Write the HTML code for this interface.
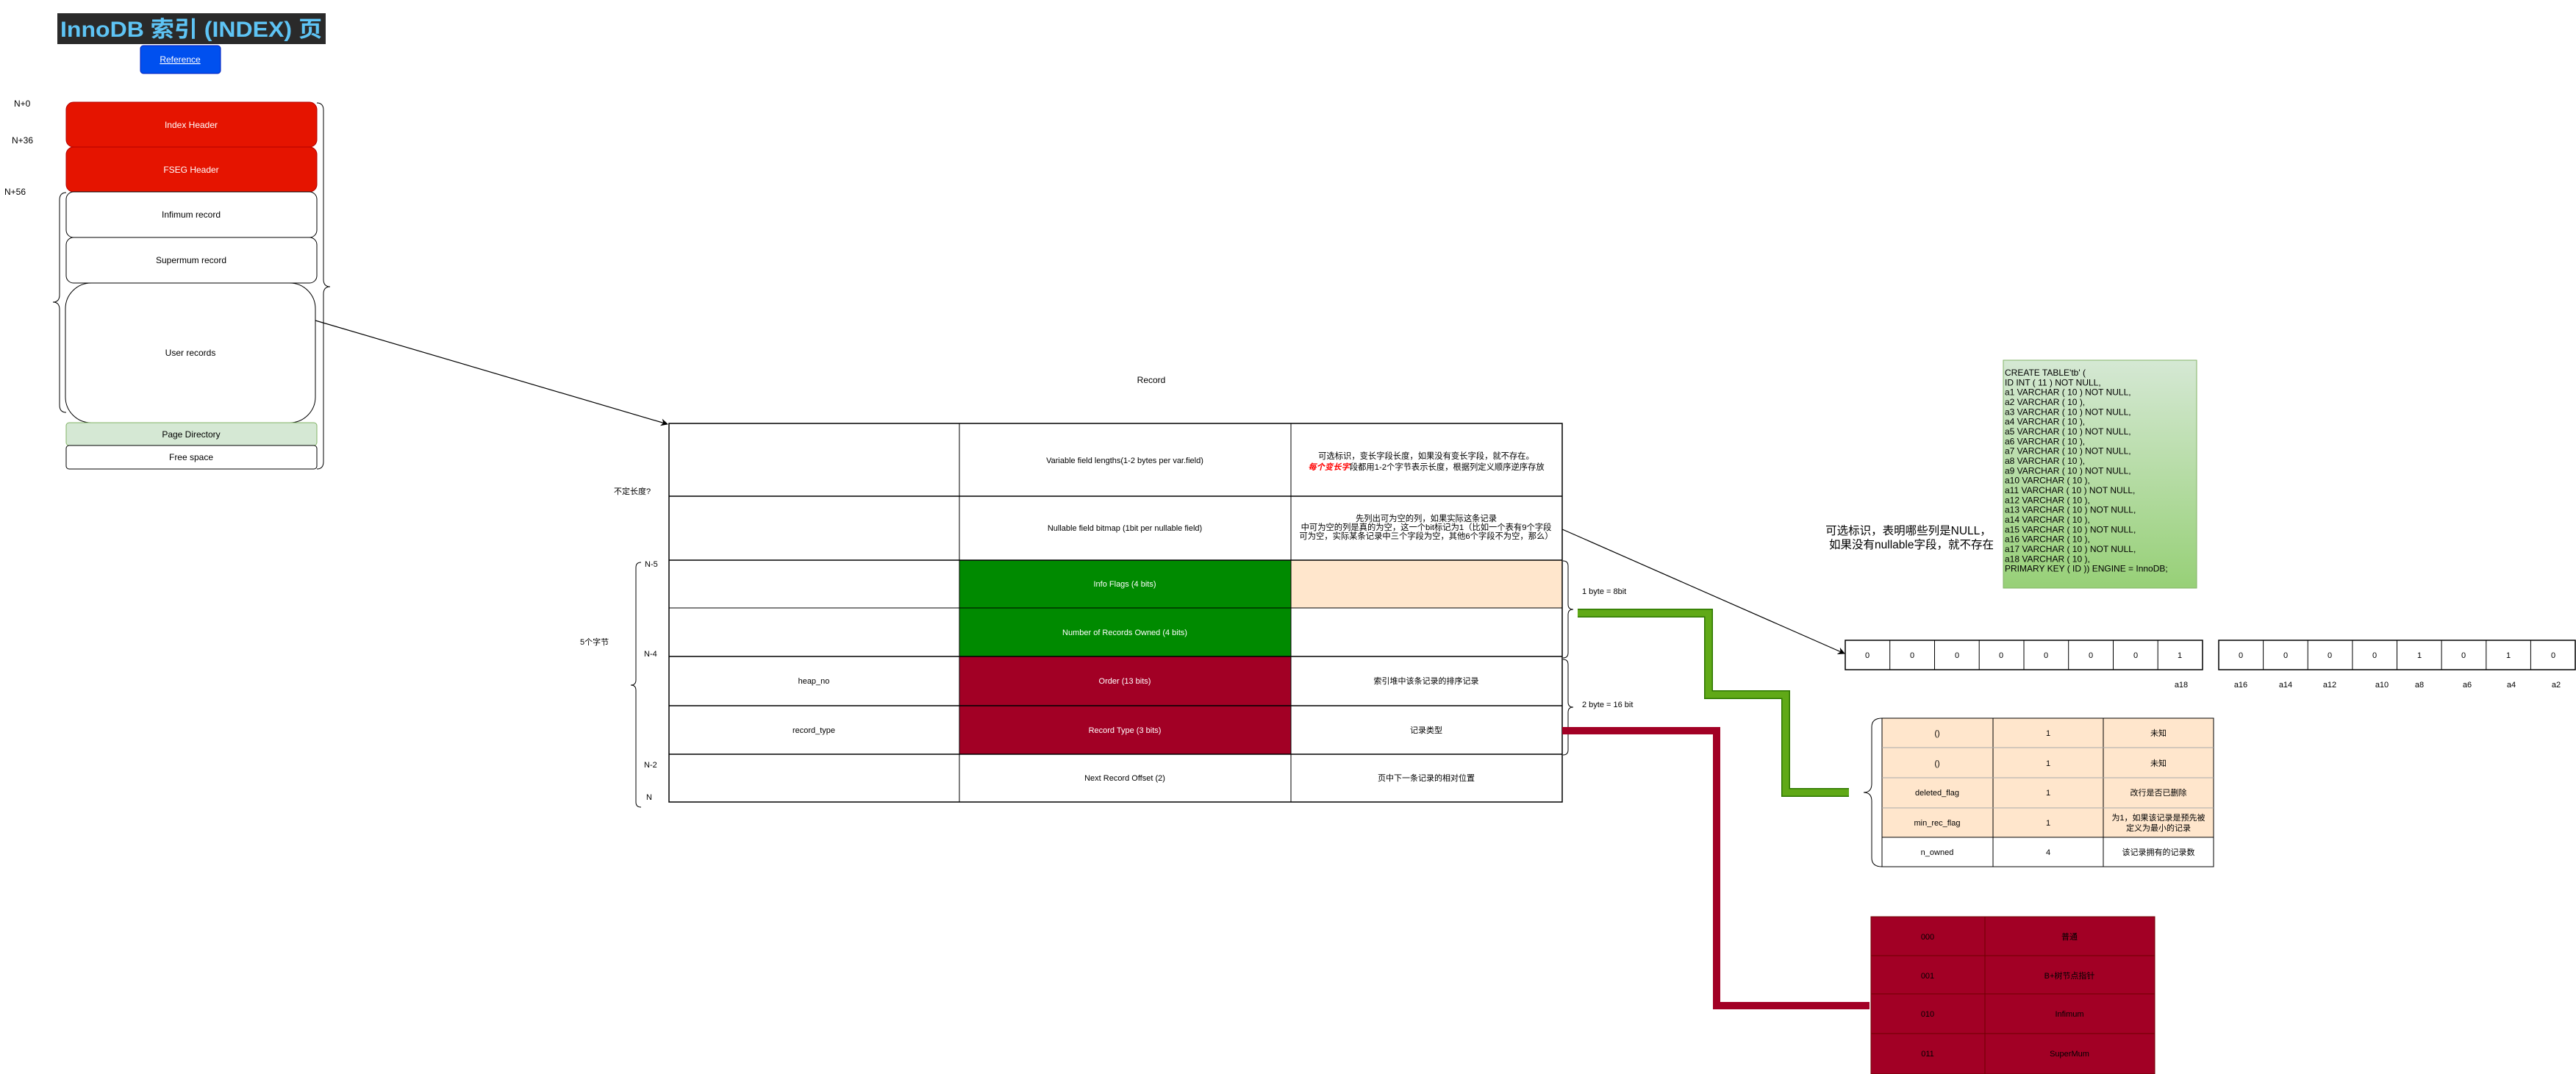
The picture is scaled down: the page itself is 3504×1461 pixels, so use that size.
<!DOCTYPE html>
<html><head><meta charset="utf-8"><style>
html,body{margin:0;padding:0;background:#fff;}
svg{display:block;}
text{font-family:"Liberation Sans","Noto Sans CJK SC",sans-serif;}
</style></head><body>
<svg width="3504" height="1461" viewBox="0 0 3504 1461" xmlns="http://www.w3.org/2000/svg">
<defs>
<linearGradient id="g1" x1="0" y1="0" x2="0" y2="1"><stop offset="0" stop-color="#d5e8d4"/><stop offset="1" stop-color="#97d077"/></linearGradient>
<marker id="ah" markerWidth="10" markerHeight="10" refX="9" refY="5" orient="auto" markerUnits="userSpaceOnUse"><path d="M0,0 L10,5 L0,10 L3,5 Z" fill="#000"/></marker>
</defs>

<!-- Title -->
<rect x="78" y="18" width="365" height="42" fill="#2a2a2a"/>
<text x="260" y="50" text-anchor="middle" font-size="30" font-weight="bold" fill="#5ec4f5" font-family="Liberation Mono, Noto Sans CJK SC, monospace" textLength="356" lengthAdjust="spacingAndGlyphs">InnoDB 索引 (INDEX) 页</text>
<rect x="191" y="62" width="109" height="38" rx="4" fill="#0050ef" stroke="#001dbc"/>
<text x="245" y="85" text-anchor="middle" font-size="12" fill="#fff" text-decoration="underline">Reference</text>

<!-- Page labels -->
<g font-size="12" fill="#000">
<text x="19" y="145">N+0</text>
<text x="16" y="195">N+36</text>
<text x="6" y="265">N+56</text>
</g>

<!-- Page blocks -->
<rect x="90" y="139" width="341" height="61" rx="10" fill="#e51400" stroke="#b20000"/>
<text x="260" y="174" text-anchor="middle" font-size="12" fill="#fff">Index Header</text>
<rect x="90" y="200" width="341" height="61" rx="10" fill="#e51400" stroke="#b20000"/>
<text x="260" y="235" text-anchor="middle" font-size="12" fill="#fff">FSEG Header</text>
<rect x="90" y="261" width="341" height="62" rx="10" fill="#fff" stroke="#000"/>
<text x="260" y="296" text-anchor="middle" font-size="12">Infimum record</text>
<rect x="90" y="323" width="341" height="62" rx="10" fill="#fff" stroke="#000"/>
<text x="260" y="358" text-anchor="middle" font-size="12">Supermum record</text>
<rect x="89" y="385" width="340" height="190" rx="35" fill="#fff" stroke="#000"/>
<text x="259" y="484" text-anchor="middle" font-size="12">User records</text>
<rect x="90" y="575" width="341" height="31" rx="4" fill="#d5e8d4" stroke="#82b366"/>
<text x="260" y="595" text-anchor="middle" font-size="12">Page Directory</text>
<rect x="90" y="606" width="341" height="32" rx="4" fill="#fff" stroke="#000"/>
<text x="260" y="626" text-anchor="middle" font-size="12">Free space</text>

<!-- page braces -->
<path d="M431,140 Q440,140 440,150 L440,380 Q440,390 449,390 Q440,390 440,400 L440,628 Q440,638 431,638" fill="none" stroke="#000"/>
<path d="M90,262 Q81,262 81,272 L81,401 Q81,411 72,411 Q81,411 81,421 L81,551 Q81,561 90,561" fill="none" stroke="#000"/>

<!-- arrow to record -->
<line x1="429" y1="436" x2="908" y2="577" stroke="#000" stroke-width="1.2" marker-end="url(#ah)"/>

<!-- Record table -->
<text x="1566" y="521" text-anchor="middle" font-size="12">Record</text>
<rect x="1305" y="762" width="451" height="131" fill="#008a00"/>
<rect x="1305" y="893" width="451" height="133" fill="#a20025"/>
<rect x="1756" y="762" width="369" height="65" fill="#ffe6cc"/>
<g stroke="#000" fill="none">
<rect x="910" y="576" width="1215" height="515" stroke-width="1.5"/>
<line x1="1305" y1="576" x2="1305" y2="1091"/>
<line x1="1756" y1="576" x2="1756" y2="1091"/>
<line x1="910" y1="675" x2="2125" y2="675" stroke-width="1.5"/>
<line x1="910" y1="762" x2="2125" y2="762" stroke-width="1.5"/>
<line x1="910" y1="827" x2="2125" y2="827"/>
<line x1="910" y1="893" x2="2125" y2="893" stroke-width="1.5"/>
<line x1="910" y1="960" x2="2125" y2="960" stroke-width="1.5"/>
<line x1="910" y1="1026" x2="2125" y2="1026" stroke-width="1.5"/>
</g>
<g font-size="11" text-anchor="middle">
<text x="1530" y="630">Variable field lengths(1-2 bytes per var.field)</text>
<text x="1530" y="722">Nullable field bitmap (1bit per nullable field)</text>
<text x="1530" y="798" fill="#fff">Info Flags (4 bits)</text>
<text x="1530" y="864" fill="#fff">Number of Records Owned (4 bits)</text>
<text x="1530" y="930" fill="#fff">Order (13 bits)</text>
<text x="1530" y="997" fill="#fff">Record Type (3 bits)</text>
<text x="1530" y="1062">Next Record Offset (2)</text>
<text x="1107" y="930">heap_no</text>
<text x="1107" y="997">record_type</text>
<text x="1940" y="930">索引堆中该条记录的排序记录</text>
<text x="1940" y="997">记录类型</text>
<text x="1940" y="1062">页中下一条记录的相对位置</text>
</g>
<g font-size="11.3" text-anchor="middle">
<text x="1940" y="624">可选标识，变长字段长度，如果没有变长字段，就不存在。</text>
<text x="1940" y="639"><tspan fill="#ff0000" font-weight="bold" font-style="italic">每个变长字</tspan>段都用1-2个字节表示长度，根据列定义顺序逆序存放</text>
<text x="1940" y="709">先列出可为空的列，如果实际这条记录</text>
<text x="1940" y="721">中可为空的列是真的为空，这一个bit标记为1（比如一个表有9个字段</text>
<text x="1940" y="733">可为空，实际某条记录中三个字段为空，其他6个字段不为空，那么）</text>
</g>
<g font-size="11">
<text x="835" y="672">不定长度?</text>
<text x="877" y="771">N-5</text>
<text x="876" y="893">N-4</text>
<text x="876" y="1044">N-2</text>
<text x="879" y="1088">N</text>
<text x="789" y="877">5个字节</text>
<text x="2152" y="808">1 byte = 8bit</text>
<text x="2152" y="962">2 byte = 16 bit</text>
</g>
<path d="M872,765 Q865,765 865,772 L865,925 Q865,932 858,932 Q865,932 865,939 L865,1091 Q865,1098 872,1098" fill="none" stroke="#000"/>
<path d="M2126,763 Q2133,763 2133,770 L2133,822 Q2133,829 2140,829 Q2133,829 2133,836 L2133,888 Q2133,895 2126,895" fill="none" stroke="#000"/>
<path d="M2126,897 Q2133,897 2133,904 L2133,955 Q2133,962 2140,962 Q2133,962 2133,969 L2133,1020 Q2133,1027 2126,1027" fill="none" stroke="#000"/>

<!-- arrow to bitmap -->
<line x1="2125" y1="720" x2="2509" y2="889" stroke="#000" stroke-width="1.2" marker-end="url(#ah)"/>

<!-- connectors -->
<polyline points="2146,834 2324,834 2324,945 2429,945 2429,1078 2515,1078" fill="none" stroke="#2d7600" stroke-width="12"/>
<polyline points="2146,834 2324,834 2324,945 2429,945 2429,1078 2515,1078" fill="none" stroke="#60a917" stroke-width="9"/>
<polyline points="2125,994 2335,994 2335,1368 2543,1368" fill="none" stroke="#a20025" stroke-width="10"/>

<!-- SQL box -->
<rect x="2725" y="490" width="263" height="310" fill="url(#g1)" stroke="#82b366"/>
<g font-size="12">
<text x="2727" y="511">CREATE TABLE'tb' (</text>
<text x="2727" y="524.3">ID INT ( 11 ) NOT NULL,</text>
<text x="2727" y="537.7">a1 VARCHAR ( 10 ) NOT NULL,</text>
<text x="2727" y="551">a2 VARCHAR ( 10 ),</text>
<text x="2727" y="564.3">a3 VARCHAR ( 10 ) NOT NULL,</text>
<text x="2727" y="577.7">a4 VARCHAR ( 10 ),</text>
<text x="2727" y="591">a5 VARCHAR ( 10 ) NOT NULL,</text>
<text x="2727" y="604.3">a6 VARCHAR ( 10 ),</text>
<text x="2727" y="617.7">a7 VARCHAR ( 10 ) NOT NULL,</text>
<text x="2727" y="631">a8 VARCHAR ( 10 ),</text>
<text x="2727" y="644.3">a9 VARCHAR ( 10 ) NOT NULL,</text>
<text x="2727" y="657.7">a10 VARCHAR ( 10 ),</text>
<text x="2727" y="671">a11 VARCHAR ( 10 ) NOT NULL,</text>
<text x="2727" y="684.3">a12 VARCHAR ( 10 ),</text>
<text x="2727" y="697.7">a13 VARCHAR ( 10 ) NOT NULL,</text>
<text x="2727" y="711">a14 VARCHAR ( 10 ),</text>
<text x="2727" y="724.3">a15 VARCHAR ( 10 ) NOT NULL,</text>
<text x="2727" y="737.7">a16 VARCHAR ( 10 ),</text>
<text x="2727" y="751">a17 VARCHAR ( 10 ) NOT NULL,</text>
<text x="2727" y="764.3">a18 VARCHAR ( 10 ),</text>
<text x="2727" y="777.7">PRIMARY KEY ( ID )) ENGINE = InnoDB;</text>
</g>
<g font-size="15.5" text-anchor="middle">
<text x="2596" y="727">可选标识，表明哪些列是NULL，</text>
<text x="2600" y="746">如果没有nullable字段，就不存在</text>
</g>

<!-- bitmap -->
<g stroke="#000" fill="#fff">
<rect x="2510" y="871" width="486" height="40" stroke-width="1.5"/>
<rect x="3018" y="871" width="485" height="40" stroke-width="1.5"/>
</g>
<g stroke="#000">
<line x1="2570.7" y1="871" x2="2570.7" y2="911"/><line x1="2631.5" y1="871" x2="2631.5" y2="911"/>
<line x1="2692.2" y1="871" x2="2692.2" y2="911"/><line x1="2753" y1="871" x2="2753" y2="911"/>
<line x1="2813.7" y1="871" x2="2813.7" y2="911"/><line x1="2874.5" y1="871" x2="2874.5" y2="911"/>
<line x1="2935.2" y1="871" x2="2935.2" y2="911"/>
<line x1="3078.6" y1="871" x2="3078.6" y2="911"/><line x1="3139.2" y1="871" x2="3139.2" y2="911"/>
<line x1="3199.9" y1="871" x2="3199.9" y2="911"/><line x1="3260.5" y1="871" x2="3260.5" y2="911"/>
<line x1="3321.1" y1="871" x2="3321.1" y2="911"/><line x1="3381.8" y1="871" x2="3381.8" y2="911"/>
<line x1="3442.4" y1="871" x2="3442.4" y2="911"/>
</g>
<g font-size="11" text-anchor="middle">
<text x="2540" y="895">0</text><text x="2601" y="895">0</text><text x="2662" y="895">0</text><text x="2722" y="895">0</text>
<text x="2783" y="895">0</text><text x="2844" y="895">0</text><text x="2905" y="895">0</text><text x="2965" y="895">1</text>
<text x="3048" y="895">0</text><text x="3109" y="895">0</text><text x="3169" y="895">0</text><text x="3230" y="895">0</text>
<text x="3291" y="895">1</text><text x="3351" y="895">0</text><text x="3412" y="895">1</text><text x="3473" y="895">0</text>
<text x="2967" y="935">a18</text><text x="3048" y="935">a16</text><text x="3109" y="935">a14</text><text x="3169" y="935">a12</text>
<text x="3240" y="935">a10</text><text x="3291" y="935">a8</text><text x="3356" y="935">a6</text><text x="3416" y="935">a4</text><text x="3477" y="935">a2</text>
</g>

<!-- flags table -->
<rect x="2560" y="977" width="451" height="162" fill="#ffe6cc"/>
<g stroke="#000" fill="none">
<rect x="2560" y="977" width="451" height="202"/>
<line x1="2711" y1="977" x2="2711" y2="1179"/>
<line x1="2861" y1="977" x2="2861" y2="1179"/>
<line x1="2560" y1="1017" x2="3011" y2="1017" stroke="#aaa"/>
<line x1="2560" y1="1058" x2="3011" y2="1058" stroke="#aaa"/>
<line x1="2560" y1="1099" x2="3011" y2="1099" stroke="#aaa"/>
<line x1="2560" y1="1139" x2="3011" y2="1139"/>
</g>
<g font-size="11" text-anchor="middle">
<text x="2635" y="1001">()</text><text x="2786" y="1001">1</text><text x="2936" y="1001">未知</text>
<text x="2635" y="1042">()</text><text x="2786" y="1042">1</text><text x="2936" y="1042">未知</text>
<text x="2635" y="1082">deleted_flag</text><text x="2786" y="1082">1</text><text x="2936" y="1082">改行是否已删除</text>
<text x="2635" y="1123">min_rec_flag</text><text x="2786" y="1123">1</text><text x="2936" y="1116">为1，如果该记录是预先被</text><text x="2936" y="1130">定义为最小的记录</text>
<text x="2635" y="1163">n_owned</text><text x="2786" y="1163">4</text><text x="2936" y="1163">该记录拥有的记录数</text>
</g>
<path d="M2560,977 Q2546,977 2546,989 L2546,1066 Q2546,1078 2535,1078 Q2546,1078 2546,1090 L2546,1167 Q2546,1179 2560,1179" fill="none" stroke="#000"/>

<!-- record type table -->
<rect x="2545" y="1247" width="386" height="214" fill="#a20025" stroke="#6f0000"/>
<g stroke="#6f0000">
<line x1="2700" y1="1247" x2="2700" y2="1461"/>
<line x1="2545" y1="1300" x2="2931" y2="1300"/>
<line x1="2545" y1="1352" x2="2931" y2="1352"/>
<line x1="2545" y1="1406" x2="2931" y2="1406"/>
</g>
<g font-size="11" text-anchor="middle" fill="#000">
<text x="2622" y="1278">000</text><text x="2815" y="1278">普通</text>
<text x="2622" y="1331">001</text><text x="2815" y="1331">B+树节点指针</text>
<text x="2622" y="1383">010</text><text x="2815" y="1383">Infimum</text>
<text x="2622" y="1437">011</text><text x="2815" y="1437">SuperMum</text>
</g>
</svg>
</body></html>
